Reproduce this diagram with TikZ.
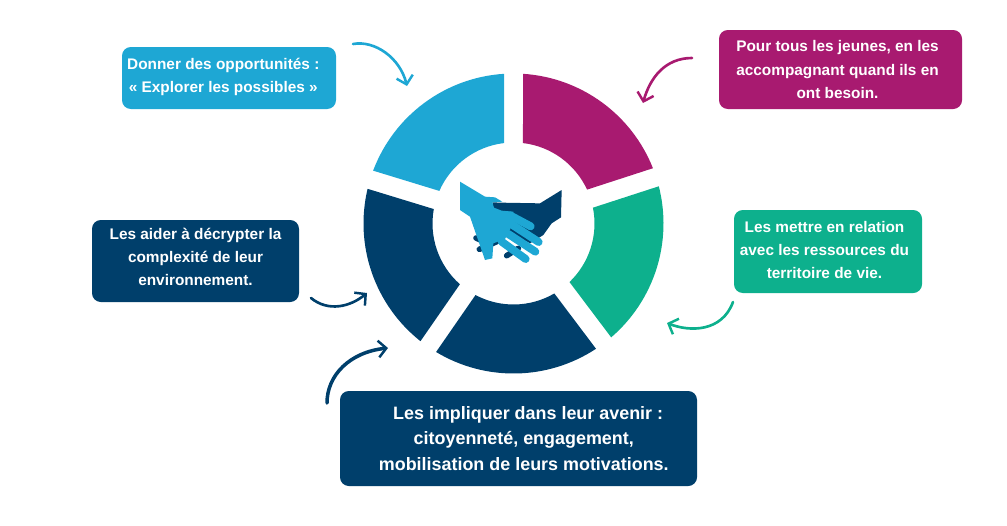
\documentclass[tikz,border=0pt]{standalone}
\usepackage{xcolor}
\usepackage{fontspec}
\usetikzlibrary{arrows.meta}
\setmainfont{Liberation Sans}
\definecolor{skyblue}{HTML}{1EA7D4}
\definecolor{plum}{HTML}{A81A70}
\definecolor{seagreen}{HTML}{0DB08D}
\definecolor{navy}{HTML}{003F6B}
\tikzset{
  box/.style={rounded corners=5pt, text=white, align=center, inner sep=0pt,
    font=\fontsize{8.75}{13.1}\selectfont\bfseries},
  curved/.style={line width=1.5pt, line cap=round,
    -{Straight Barb[length=4.5pt,width=9.5pt,line width=1.4pt]}},
  finger/.style={skyblue, line width=4.5pt, line cap=round}
}

\begin{document}
\begin{tikzpicture}[x=0.02cm,y=-0.02cm]
\useasboundingbox (0,0) rectangle (1007,525);

\begin{scope}[shift={(513.5,223.5)},y=0.02cm]
\foreach \a/\b/\c in {18/90/plum,90/163/skyblue,163/235.3/navy,235.3/307/navy,307/378/seagreen}{
  \fill[\c] ({\a+3.63}:150) arc[start angle={\a+3.63},end angle={\b-3.63},radius=150]
    -- ({\b-6.73}:81) arc[start angle={\b-6.73},end angle={\a+6.73},radius=81] -- cycle;
}
\end{scope}

\begin{scope}[shift={(430,160)},scale=1/3]
\fill[navy] (395,90) -- (330,130) -- (215,128) -- (187,127) -- (200,200) -- (300,250)
  -- (340,225) -- (365,190) -- (393,172) -- cycle;
\draw[navy,line width=3.2pt,line cap=round] (138,234) -- (175,250);
\draw[navy,line width=3.2pt,line cap=round] (148,268) -- (200,245);
\draw[navy,line width=3.2pt,line cap=round] (230,287) -- (265,265);
\fill[skyblue] (90,65) -- (165,110) -- (195,112) -- (217,125) -- (187,127)
  -- (192,143) -- (215,152) -- (250,155) -- (250,178) -- (240,210) -- (225,237)
  -- (190,250) -- (187,295) -- (165,300) -- (120,170) -- (90,150) -- cycle;
\draw[finger] (240,166) -- (302,199);
\draw[finger] (240,190) -- (326,246);
\draw[finger] (235,222) -- (316,275);
\draw[finger] (215,245) -- (287,297);
\end{scope}

\node[box, fill=skyblue, minimum width=214*0.02cm, minimum height=62*0.02cm] (explore) at (229,78)
  {\hspace*{-6.5pt}Donner des opportunités :\\\hspace*{-6.5pt}« Explorer les possibles »\rule[-3.2pt]{0pt}{0pt}};
\node[box, fill=plum, minimum width=243*0.02cm, minimum height=79*0.02cm] (youth) at (840.5,69.5)
  {\hspace*{-3.4pt}Pour tous les jeunes, en les\\\hspace*{-3.4pt}accompagnant quand ils en\\\hspace*{-3.4pt}ont besoin.};
\node[box, fill=seagreen, minimum width=188*0.02cm, minimum height=83*0.02cm] (relation) at (828,251.5)
  {\hspace*{-4pt}Les mettre en relation\\\hspace*{-4pt}avec les ressources du\\\hspace*{-4pt}territoire de vie.\rule[-1.9pt]{0pt}{0pt}};
\node[box, fill=navy, minimum width=207*0.02cm, minimum height=82*0.02cm] (decode) at (195.5,261)
  {Les aider à décrypter la\\complexité de leur\\environnement.\rule[-4.5pt]{0pt}{0pt}};
\node[box, fill=navy, minimum width=357*0.02cm, minimum height=95*0.02cm,
  font=\fontsize{10.2}{14.4}\selectfont\bfseries] (future) at (518.5,438.5)
  {\hspace*{11pt}Les impliquer dans leur avenir :\\\hspace*{6pt}citoyenneté, engagement,\\\hspace*{6pt}mobilisation de leurs motivations.};

\coordinate (exploreFrom) at (353,44);
\coordinate (exploreTo) at (407,86);
\coordinate (youthFrom) at (692,58);
\coordinate (youthTo) at (643,103);
\coordinate (relationFrom) at (733,302);
\coordinate (relationTo) at (667,323);
\coordinate (decodeFrom) at (311,298);
\coordinate (decodeTo) at (367,293);
\coordinate (futureFrom) at (327,403);
\coordinate (futureTo) at (388,348);

\draw[curved, skyblue] (exploreFrom) .. controls (375,40) and (400,58) .. (exploreTo);
\draw[curved, plum] (youthFrom) .. controls (665,58) and (650,78) .. (youthTo);
\draw[curved, seagreen] (relationFrom) .. controls (722,332) and (690,332) .. (relationTo);
\draw[curved, navy] (decodeFrom) .. controls (328,312) and (350,307) .. (decodeTo);
\draw[curved, navy, line width=2pt] (futureFrom) .. controls (327,375) and (350,352) .. (futureTo);
\end{tikzpicture}
\end{document}
